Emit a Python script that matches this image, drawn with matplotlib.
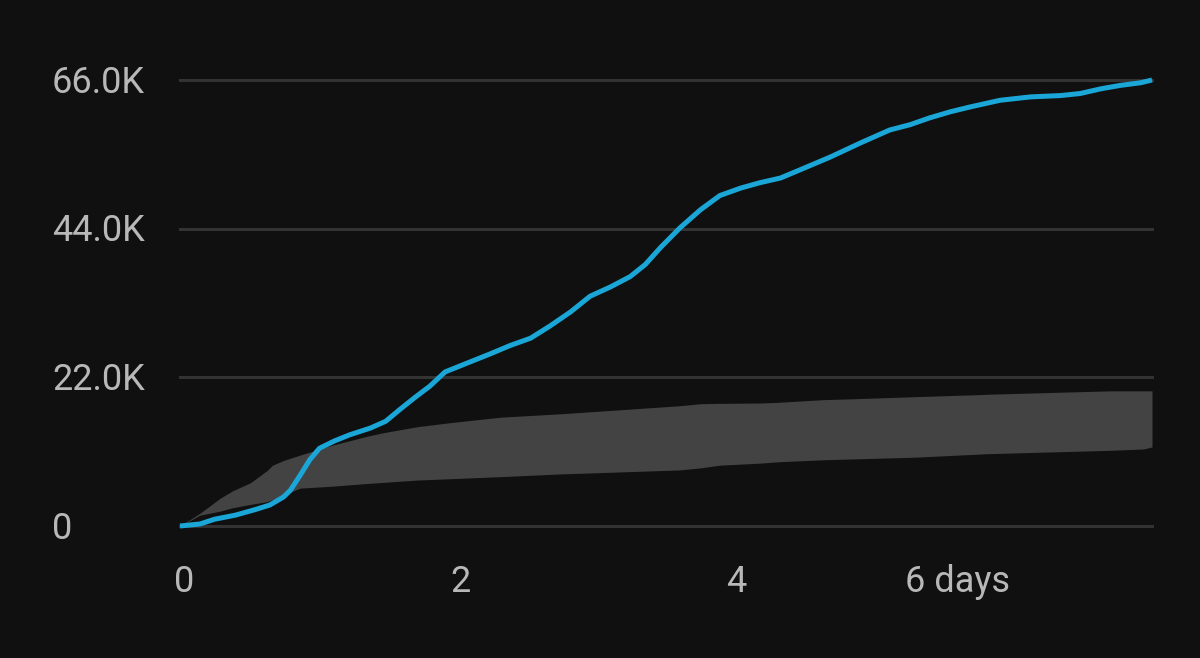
import matplotlib
matplotlib.use("Agg")
import matplotlib.pyplot as plt

# Cumulative views (blue line)
line_days = [0, 0.145, 0.25, 0.4, 0.54, 0.65, 0.75, 0.8, 0.87, 0.94, 1.01, 1.12, 1.23, 1.38, 1.49,
             1.59, 1.7, 1.81, 1.92, 2.03, 2.14, 2.25, 2.39, 2.54, 2.68, 2.83, 2.97, 3.12, 3.26,
             3.37, 3.48, 3.62, 3.77, 3.91, 4.06, 4.2, 4.35, 4.49, 4.71, 4.93, 5.14, 5.29, 5.43,
             5.58, 5.72, 5.94, 6.16, 6.38, 6.52, 6.67, 6.81, 6.96, 7.04]
line_vals = [0, 300, 1000, 1600, 2400, 3100, 4300, 5300, 7500, 9800, 11500, 12600, 13500,
             14500, 15500, 17200, 19000, 20700, 22800, 23700, 24600, 25500, 26700, 27800,
             29600, 31700, 34000, 35400, 36900, 38700, 41200, 44100, 46800, 48900, 50000,
             50800, 51500, 52700, 54600, 56700, 58600, 59400, 60400, 61300, 62000, 63000,
             63500, 63700, 64000, 64700, 65200, 65600, 66000]

# Typical range band (grey)
band_days = [0, 0.145, 0.29, 0.38, 0.51, 0.63, 0.67, 0.75, 0.87, 1.11, 1.36, 1.47, 1.72, 1.96,
             2.32, 2.75, 3.19, 3.62, 3.77, 3.91, 4.2, 4.33, 4.66, 4.83, 5.27, 5.34, 5.8,
             5.85, 6.38, 6.74, 6.98, 7.04]
band_upper = [0, 1900, 4100, 5200, 6400, 8200, 9000, 9700, 10500, 12000, 13300, 13800, 14700,
              15300, 16100, 16600, 17200, 17800, 18100, 18150, 18200, 18300, 18700, 18800,
              19100, 19150, 19450, 19500, 19800, 20000, 20000, 20000]
band_lower = [0, 1600, 2200, 2700, 3200, 3600, 3900, 4600, 5600, 5900, 6300, 6450, 6800, 7000,
              7300, 7700, 8000, 8300, 8600, 9000, 9300, 9500, 9800, 9900, 10150, 10200,
              10650, 10700, 11000, 11200, 11400, 11700]

y_ticks = [0, 22000, 44000, 66000]
y_labels = ["0", "22.0K", "44.0K", "66.0K"]
x_ticks = [0, 2, 4]
x_labels = ["0", "2", "4"]
last_tick = 6
last_label = "6 days"

BG = "#101010"
TXT = "#b8b8b8"
GRID = "#333333"
BLUE = "#1aa6d6"
BAND = "#434343"

fig = plt.figure(figsize=(12, 6.58), dpi=100, facecolor=BG)
ax = fig.add_axes([0.15, 1 - 526 / 658, 0.81, (526 - 80) / 658])
ax.set_facecolor(BG)
ax.set_xlim(0, 7.04)
ax.set_ylim(0, 66000)

for v in y_ticks:
    ax.axhline(v, color=GRID, lw=2.2, zorder=1, clip_on=False)

ax.fill_between(band_days, band_lower, band_upper, color=BAND, lw=0, zorder=2)
ax.plot(line_days, line_vals, color=BLUE, lw=3.6, zorder=3, clip_on=False,
        solid_joinstyle="round", solid_capstyle="butt")

for s in ax.spines.values():
    s.set_visible(False)
ax.set_xticks([])
ax.set_yticks([])

fam = ["Roboto", "DejaVu Sans"]
FS = 26
for v, lab in zip(y_ticks, y_labels):
    ax.text(-128 / 138, v - 2.5 / 148.5 * 22000, lab, ha="left", va="center", color=TXT,
            fontsize=FS, family=fam)
for v, lab in zip(x_ticks, x_labels):
    ax.text(v + 4 / 138, -56 / 148.5 * 22000, lab, ha="center", va="center", color=TXT,
            fontsize=FS, family=fam)
ax.text(last_tick + 2 / 138, -56 / 148.5 * 22000, last_label, ha="right", va="center",
        color=TXT, fontsize=FS, family=fam)

fig.savefig("out.png", dpi=100, facecolor=BG)
